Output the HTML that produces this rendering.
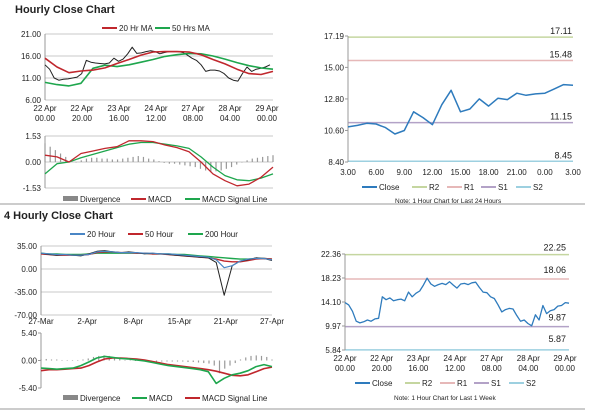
<!DOCTYPE html>
<html><head><meta charset="utf-8"><style>
body{margin:0;background:#fff;width:600px;height:413px;overflow:hidden;font-family:"Liberation Sans",sans-serif}
svg{display:block}
text{font-family:"Liberation Sans",sans-serif;font-size:8px;fill:#222}
</style></head><body>
<svg id="s" width="600" height="413" xmlns="http://www.w3.org/2000/svg">
<text x="15" y="13" style="font-size:11px;font-weight:bold">Hourly Close Chart</text>
<text x="4" y="219" style="font-size:11px;font-weight:bold">4 Hourly Close Chart</text>
<line x1="0" y1="204" x2="585" y2="204" stroke="#999"/>
<line x1="0" y1="409" x2="585" y2="409" stroke="#999"/>
</svg>
<script>
// ---- Hourly (left) ----
const close1=[14,13,11,10.5,10.7,10.8,11,11.2,12,15,14.6,14.4,14.3,14.2,14.4,15.5,14.8,15.3,16.5,18,16.6,16.7,17,17.2,17,16.5,16.8,17,17,17,16.8,16.2,15.5,15,14,12.5,12.8,12.8,12.6,12,11,10.5,10.3,12,13.5,12.5,13,13.2,13.5,14];
const ma20=[15.5,13.5,12.2,12.6,12.8,13.3,14.3,15.2,16.2,16.9,17,17,16.9,16.3,15.2,14.2,13,12,11.8,12.5];
const ma50=[10,9.5,9.2,9.8,13.2,13.9,13.6,14,14.6,15.2,15.9,16.3,16.6,16.5,16,15.3,14.5,13.8,13.3,13];
const ticks1=[21,16,11,6];
const xl1=[["22 Apr","00.00"],["22 Apr","20.00"],["23 Apr","16.00"],["24 Apr","12.00"],["27 Apr","08.00"],["28 Apr","04.00"],["29 Apr","00.00"]];
const macd1=[0.4,0.3,0.0,0.5,0.65,0.8,0.9,1.25,1.25,1.2,1.0,0.85,0.6,0.0,-0.7,-1.1,-1.4,-1.3,-0.9,-0.3];
const sig1=[-0.7,-0.1,0.0,0.25,0.45,0.65,0.85,1.05,1.15,1.15,1.05,0.95,0.8,0.3,-0.3,-0.8,-1.05,-1.1,-0.95,-0.7];
const div1=[1.1,0.9,0.7,0.5,0.3,0.1,0.0,0.1,0.2,0.25,0.25,0.2,0.2,0.15,0.15,0.2,0.25,0.3,0.35,0.3,0.2,0.15,0.05,-0.05,-0.1,-0.1,-0.15,-0.2,-0.25,-0.3,-0.4,-0.5,-0.6,-0.55,-0.5,-0.4,-0.3,-0.15,0.0,0.1,0.2,0.25,0.3,0.35,0.4];
const macdTicks1=[1.53,0,-1.53];
// ---- Hourly right ----
const closeR1=[10.85,10.95,11.1,11.05,10.8,10.35,10.6,11.9,11.5,11.0,12.4,13.4,11.9,12.1,12.8,12.3,12.85,12.75,13.2,13.05,13.15,13.2,13.5,13.8,13.75];
const levelsR1=[17.11,15.48,11.15,8.45];
const ticksR1=[17.19,15.00,12.80,10.60,8.40];
const xlR1=["3.00","6.00","9.00","12.00","15.00","18.00","21.00","0.00","3.00"];
// ---- 4 hourly left ----
const h20=[24,23,22,22,21,21,22,26,27,26,25,25,25,24,24,23,23,22,21,20,19,18,14,2,5,12,15,16,16,14];
const h50=[23,22,21,21,21,21,22,25,26,26,25,25,24,24,23,23,22,21,20,19,18,17,15,12,11,11,13,15,16,15];
const h200=[24,23,23,22,22,22,23,24,24,24,24,24,24,24,23,23,23,22,22,21,20,19,18,17,16,15,15,16,16,15];
const close4=[24,22,21,22,21,20,23,27,28,26,25,26,25,23,24,23,22,21,20,19,18,17,10,-40,5,12,14,17,16,13];
const ticks4=[35,0,-35,-70];
const xl4=["27-Mar","2-Apr","8-Apr","15-Apr","21-Apr","27-Apr"];
const macd4=[-1.5,-1.6,-1.7,-1.6,-1.5,-1.0,-0.3,0.5,0.8,0.6,0.4,0.3,0.1,-0.1,-0.4,-0.7,-1.0,-1.2,-1.4,-1.6,-1.8,-2.2,-4.5,-3.5,-2.8,-2.5,-2.0,-1.2,-0.8,-1.2];
const sig4=[-2.0,-1.8,-1.8,-1.7,-1.6,-1.5,-1.0,-0.3,0.3,0.5,0.5,0.4,0.3,0.1,-0.2,-0.5,-0.8,-1.0,-1.2,-1.4,-1.6,-1.8,-2.1,-2.5,-2.9,-3.0,-2.8,-2.2,-1.6,-1.3];
const div4=[0.3,0.3,0.2,0.2,0.1,0.1,0.1,0.1,0.2,0.4,0.7,0.9,1.0,0.9,0.6,0.3,0.1,0.1,0.0,-0.1,-0.1,-0.1,-0.2,-0.2,-0.2,-0.2,-0.2,-0.2,-0.3,-0.3,-0.4,-0.5,-0.6,-1.0,-2.5,-1.6,-1.0,-0.5,0.2,0.6,0.9,1.0,0.9,0.7,0.2];
const macdTicks4=[5.40,0,-5.40];
// ---- Weekly right ----
const closeR2=[14.0,13.6,12.5,10.8,10.5,10.7,11.0,10.8,11.2,11.3,15.0,14.5,14.8,14.3,14.5,14.6,14.3,15.8,15.0,15.6,16.0,17.0,18.2,17.2,16.8,17.1,17.3,17.1,17.6,17.0,16.5,17.2,17.3,17.1,17.4,17.5,16.6,15.8,15.7,15.0,14.7,13.6,12.4,12.8,13.0,12.9,11.8,10.8,11.0,10.4,10.0,11.9,11.0,13.5,12.1,12.6,12.8,13.4,13.5,14.0,13.9];
const levelsR2=[22.25,18.06,9.87,5.87];
const ticksR2=[22.36,18.23,14.10,9.97,5.84];
const xlR2=[["22 Apr","00.00"],["22 Apr","20.00"],["23 Apr","16.00"],["24 Apr","12.00"],["27 Apr","08.00"],["28 Apr","04.00"],["29 Apr","00.00"]];

const S=document.getElementById('s'),NS='http://www.w3.org/2000/svg';
function mk(t,a,txt){const e=document.createElementNS(NS,t);for(const k in a)e.setAttribute(k,a[k]);if(txt!==undefined)e.textContent=txt;S.appendChild(e);return e;}
function sc(d0,d1,r0,r1){return v=>r0+(v-d0)/(d1-d0)*(r1-r0);}
function idx(n,x0,x1){return i=>x0+i*(x1-x0)/(n-1);}
function line(arr,x0,x1,y,col,w,name){const X=idx(arr.length,x0,x1);const p=arr.map((v,i)=>X(i).toFixed(1)+','+y(v).toFixed(1)).join(' ');
 const e=mk('polyline',{points:p,fill:'none',stroke:col,'stroke-width':w,'stroke-linejoin':'round'});
 
 return e;}
function yTicks(ticks,y,x0,x1,dec,grid,name){ticks.forEach(t=>{
 const l=mk('line',{x1:x0,x2:grid?x1:x0-3,y1:y(t),y2:y(t),stroke:grid?'#c8c8c8':'#999','stroke-width':1});
 
 
 const e=mk('text',{x:x0-4,y:y(t)+3,'text-anchor':'end'},t.toFixed(dec));
 
 });}
function axisL(x0,y0,y1,name){const e=mk('line',{x1:x0,x2:x0,y1:y0,y2:y1,stroke:'#999'});
 
 }
function xLabels(labels,x0,x1,y,name){const X=idx(labels.length,x0,x1);labels.forEach((l,i)=>{
 const arr=Array.isArray(l)?l:[l];arr.forEach((s,j)=>{const e=mk('text',{x:X(i),y:y+j*10,'text-anchor':'middle'},s);
 
 });});}
function bars(arr,x0,x1,y,name){const X=idx(arr.length,x0,x1);const bw=1.2;arr.forEach((v,i)=>{
 const a=y(v),b=y(0);const e=mk('rect',{x:X(i)-bw/2,y:Math.min(a,b),width:bw,height:Math.abs(a-b)||0.5,fill:'#999'});
 
 });}
function legend(items,y){items.forEach(([x,col,label,sw])=>{
 if(sw){const r=mk('rect',{x:x,y:y-3,width:15,height:5,fill:'#888'});}
 else{const l=mk('line',{x1:x,x2:x+15,y1:y,y2:y,stroke:col,'stroke-width':2});}
 const t=mk('text',{x:x+17,y:y+3},label);});}
const RED='#c0272d',GRN='#1ea64d',BLU='#2e7bbd';

// Hourly price panel
let y=sc(6,21,100,34);
yTicks(ticks1,y,45,273,2,true,'hourly-y');axisL(45,34,100,'hourly-y-axis');
xLabels(xl1,45,267,111,'hourly-x');
line(close1,45,270,y,'#222',1,'hourly-close');
line(ma50,45,273,y,GRN,1.6,'ma50-line');
line(ma20,45,273,y,RED,1.6,'ma20-line');
legend([[102,RED,'20 Hr MA'],[155,GRN,'50 Hrs MA']],28);
// Hourly MACD
y=sc(-1.53,1.53,188,136);
yTicks(macdTicks1,y,45,273,2,true,'hourly-macd-y');axisL(45,136,188,'hourly-macd-axis');
bars(div1,45,273,y,'hourly-divergence-bar');
line(sig1,45,273,y,GRN,1.3,'hourly-signal-line');
line(macd1,45,273,y,RED,1.3,'hourly-macd-line');
legend([[63,'#888','Divergence',1],[131,RED,'MACD'],[185,GRN,'MACD Signal Line']],199);
// Hourly right
y=sc(8.40,17.19,162,36);
yTicks(ticksR1,y,348,348,2,false,'r1-y');
const lc=['#c5d6a0','#e6b8b8','#b3a2c7','#9dd0e0'];
levelsR1.forEach((v,i)=>{const l=mk('line',{x1:348,x2:573,y1:y(v),y2:y(v),stroke:lc[i],'stroke-width':1.5});
 const t=mk('text',{x:572,y:y(v)-3,'text-anchor':'end',style:'font-size:9px'},v.toFixed(2));});
axisL(348,36,162,'r1-y-axis');
line(closeR1,348,573,y,BLU,1.5,'r1-close-line');
xLabels(xlR1,348,573,175,'r1-x');
legend([[362,BLU,'Close'],[412,lc[0],'R2'],[447,lc[1],'R1'],[481,lc[2],'S1'],[516,lc[3],'S2']],187);
mk('text',{x:395,y:203,style:'font-size:6.5px'},'Note: 1 Hour Chart for Last 24 Hours');
// 4 hourly price
y=sc(-70,35,315,246);
yTicks(ticks4,y,41,272,2,true,'h4-y');axisL(41,246,315,'h4-y-axis');
xLabels(xl4,41,272,324,'h4-x');
line(h200,41,272,y,GRN,1.4,'h200-line');
line(h50,41,272,y,RED,1.4,'h50-line');
line(close4,41,272,y,'#222',1,'h4-close');
line(h20,41,272,y,'#4a86c5',1.2,'h20-line');
legend([[70,'#4a86c5','20 Hour'],[128,RED,'50 Hour'],[188,GRN,'200 Hour']],234);
// 4 hourly MACD
y=sc(-5.40,5.40,388,333);
yTicks(macdTicks4,y,41,272,2,false,'h4-macd-y');axisL(41,333,388,'h4-macd-axis');
bars(div4,41,272,y,'h4-divergence-bar');
line(sig4,41,272,y,RED,1.6,'h4-signal-line');
line(macd4,41,272,y,GRN,1.6,'h4-macd-line');
legend([[63,'#888','Divergence',1],[132,GRN,'MACD'],[185,RED,'MACD Signal Line']],398);
// Weekly right
y=sc(5.84,22.36,350,254);
yTicks(ticksR2,y,345,345,2,false,'r2-y');
levelsR2.forEach((v,i)=>{const l=mk('line',{x1:345,x2:569,y1:y(v),y2:y(v),stroke:lc[i],'stroke-width':1.5});
 const t=mk('text',{x:566,y:y(v)-(i==0?4:i==3?-(-8):6),'text-anchor':'end',style:'font-size:9px'},v.toFixed(2));});
axisL(345,254,350,'r2-y-axis');
line(closeR2,345,569,y,BLU,1.3,'r2-close-line');
xLabels(xlR2,345,565,361,'r2-x');
legend([[355,BLU,'Close'],[405,lc[0],'R2'],[440,lc[1],'R1'],[474,lc[2],'S1'],[509,lc[3],'S2']],383);
mk('text',{x:394,y:400,style:'font-size:6.5px'},'Note: 1 Hour Chart for Last 1 Week');
</script>
</body></html>
